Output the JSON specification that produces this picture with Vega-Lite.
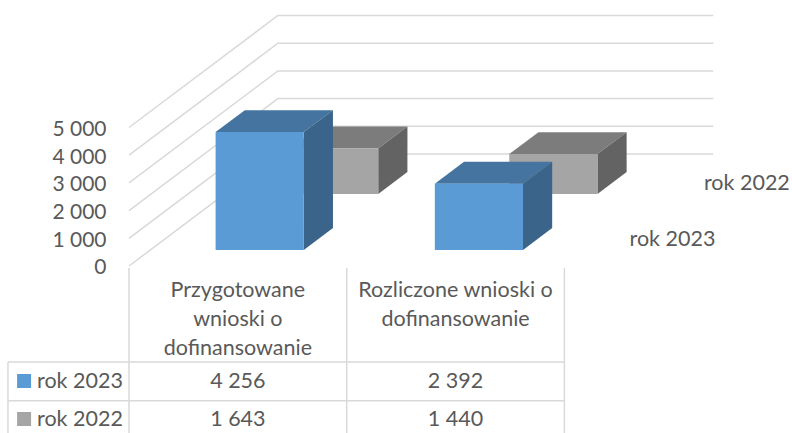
{
"$schema":"https://vega.github.io/schema/vega-lite/v6.json",
"width":792,"height":433,"padding":0,"autosize":{"type":"none"},"background":"white",
"config":{"view":{"stroke":null},"text":{"font":"Lato","fontSize":21.5,"color":"#595959"},"axis":{"labelFont":"Lato"}},
"datasets":{
"siatka":[{"tick":0},{"tick":1000},{"tick":2000},{"tick":3000},{"tick":4000},{"tick":5000}],
"tabela":[{"kind":"col","i":0},{"kind":"col","i":1},{"kind":"col","i":2},{"kind":"left","i":-0.556},{"kind":"row","i":0},{"kind":"row","i":1}]
},
"data":{"values":[
{"kategoria":"Przygotowane\nwnioski o\ndofinansowanie","seria":"rok 2023","wartosc":4256},
{"kategoria":"Rozliczone wnioski o\ndofinansowanie","seria":"rok 2023","wartosc":2392},
{"kategoria":"Przygotowane\nwnioski o\ndofinansowanie","seria":"rok 2022","wartosc":1643},
{"kategoria":"Rozliczone wnioski o\ndofinansowanie","seria":"rok 2022","wartosc":1440}
]},
"transform":[
{"calculate":"indexof(datum.kategoria,'Przyg')==0?0:1","as":"k"},
{"calculate":"datum.seria=='rok 2023'?0:1","as":"s"},
{"calculate":"datum.s*0.5+0.143","as":"near"},
{"calculate":"datum.near+0.196","as":"far"},
{"fold":["near","far"],"as":["face","d"]},
{"calculate":"datum.k*1.007+0.3+datum.d*0.684","as":"XL"},
{"calculate":"datum.k*1.007+0.705+datum.d*0.684","as":"XR"},
{"calculate":"datum.wartosc+datum.d*4043","as":"YT"},
{"calculate":"datum.d*4043","as":"YB"},
{"calculate":"datum.s==0?-4152:-5523","as":"YROW"}
],
"layer":[
{"data":{"name":"siatka"},
 "transform":[{"calculate":"[0,1,2]","as":"p"},{"flatten":["p"]},
  {"calculate":"datum.p==0?0:1","as":"d"},{"calculate":"datum.p==2?2:0","as":"u"},
  {"calculate":"datum.u+datum.d*0.684","as":"X"},{"calculate":"datum.tick+datum.d*4043","as":"Y"}],
 "mark":{"type":"line","stroke":"#D9D9D9","strokeWidth":1.5},
 "encoding":{
  "x":{"field":"X","type":"quantitative","axis":null,"scale":{"domain":[-0.5926,3.0455],"nice":false,"zero":false}},
  "y":{"field":"Y","type":"quantitative","title":null,"scale":{"domain":[-6029,9603],"nice":false,"zero":false},
   "axis":{"values":[0,1000,2000,3000,4000,5000],"labelExpr":"replace(format(datum.value,','),',',' ')","grid":false,"ticks":false,"domain":false,"offset":-106,"labelPadding":0,"labelOffset":2,"labelFontSize":21,"labelColor":"#595959","labelFont":"Lato"}},
  "detail":{"field":"tick"},"order":{"field":"p"}}},
{"data":{"name":"tabela"},
 "transform":[
  {"calculate":"datum.kind=='col'?datum.i:-0.556","as":"X"},
  {"calculate":"datum.kind=='col'?datum.i:(datum.kind=='left'?-0.556:2)","as":"X2"},
  {"calculate":"datum.kind=='col'?-72:(datum.kind=='left'?-3466:(datum.i==0?-3466:-4863))","as":"Y"},
  {"calculate":"datum.kind=='col'||datum.kind=='left'?-6029:(datum.i==0?-3466:-4863)","as":"Y2"}],
 "mark":{"type":"rule","stroke":"#D9D9D9","strokeWidth":1.5},
 "encoding":{"x":{"field":"X","type":"quantitative"},"x2":{"field":"X2"},"y":{"field":"Y","type":"quantitative"},"y2":{"field":"Y2"}}},
{"transform":[{"filter":"datum.seria=='rok 2022'"}],
 "mark":{"type":"area","orient":"horizontal","fill":"#7C7C7C"},
 "encoding":{"x":{"field":"XL","type":"quantitative"},"x2":{"field":"XR"},"y":{"field":"YT","type":"quantitative"},"detail":{"field":"k"}}},
{"transform":[{"filter":"datum.seria=='rok 2022'"}],
 "mark":{"type":"area","orient":"vertical","fill":"#636363"},
 "encoding":{"x":{"field":"XR","type":"quantitative"},"y":{"field":"YT","type":"quantitative"},"y2":{"field":"YB"},"detail":{"field":"k"}}},
{"transform":[{"filter":"datum.seria=='rok 2022'&&datum.face=='near'"}],
 "mark":{"type":"rect","fill":"#A5A5A5"},
 "encoding":{"x":{"field":"XL","type":"quantitative"},"x2":{"field":"XR"},"y":{"field":"YT","type":"quantitative"},"y2":{"field":"YB"}}},
{"transform":[{"filter":"datum.seria=='rok 2023'"}],
 "mark":{"type":"area","orient":"horizontal","fill":"#44749F"},
 "encoding":{"x":{"field":"XL","type":"quantitative"},"x2":{"field":"XR"},"y":{"field":"YT","type":"quantitative"},"detail":{"field":"k"}}},
{"transform":[{"filter":"datum.seria=='rok 2023'"}],
 "mark":{"type":"area","orient":"vertical","fill":"#3A6489"},
 "encoding":{"x":{"field":"XR","type":"quantitative"},"y":{"field":"YT","type":"quantitative"},"y2":{"field":"YB"},"detail":{"field":"k"}}},
{"transform":[{"filter":"datum.seria=='rok 2023'&&datum.face=='near'"}],
 "mark":{"type":"rect","fill":"#5B9BD5"},
 "encoding":{"x":{"field":"XL","type":"quantitative"},"x2":{"field":"XR"},"y":{"field":"YT","type":"quantitative"},"y2":{"field":"YB"}}},
{"transform":[{"filter":"datum.face=='near'&&datum.k==0"},{"calculate":"2+(0.25+0.5*datum.s)*0.684+0.128","as":"X"},{"calculate":"(0.25+0.5*datum.s)*4043","as":"Y"}],
 "mark":{"type":"text","align":"left","baseline":"middle","dy":2},
 "encoding":{"x":{"field":"X","type":"quantitative"},"y":{"field":"Y","type":"quantitative"},"text":{"field":"seria"}}},
{"transform":[{"filter":"datum.face=='near'&&datum.s==0"},{"calculate":"datum.k+0.5","as":"X"},{"calculate":"-420","as":"Y"}],
 "mark":{"type":"text","align":"center","baseline":"top","lineBreak":"\n","lineHeight":29.3,"dy":2},
 "encoding":{"x":{"field":"X","type":"quantitative"},"y":{"field":"Y","type":"quantitative"},"text":{"field":"kategoria"}}},
{"transform":[{"filter":"datum.face=='near'"},{"calculate":"datum.k+0.5","as":"X"},{"calculate":"replace(format(datum.wartosc,','),',',' ')","as":"T"}],
 "mark":{"type":"text","align":"center","baseline":"middle","dy":1},
 "encoding":{"x":{"field":"X","type":"quantitative"},"y":{"field":"YROW","type":"quantitative"},"text":{"field":"T"}}},
{"transform":[{"filter":"datum.face=='near'&&datum.k==0"},{"calculate":"-0.4226","as":"X"}],
 "mark":{"type":"text","align":"left","baseline":"middle","dy":1},
 "encoding":{"x":{"field":"X","type":"quantitative"},"y":{"field":"YROW","type":"quantitative"},"text":{"field":"seria"}}},
{"transform":[{"filter":"datum.face=='near'&&datum.k==0"},{"calculate":"-0.482","as":"X"}],
 "mark":{"type":"square","size":196,"opacity":1},
 "encoding":{"x":{"field":"X","type":"quantitative"},"y":{"field":"YROW","type":"quantitative"},
  "color":{"field":"seria","type":"nominal","legend":null,"scale":{"domain":["rok 2023","rok 2022"],"range":["#5B9BD5","#A5A5A5"]}}}}
],
"encoding":{
 "x":{"field":"X","type":"quantitative","axis":null,"scale":{"domain":[-0.5926,3.0455],"nice":false,"zero":false}},
 "y":{"field":"Y","type":"quantitative","title":null,"scale":{"domain":[-6029,9603],"nice":false,"zero":false}}
}
}
